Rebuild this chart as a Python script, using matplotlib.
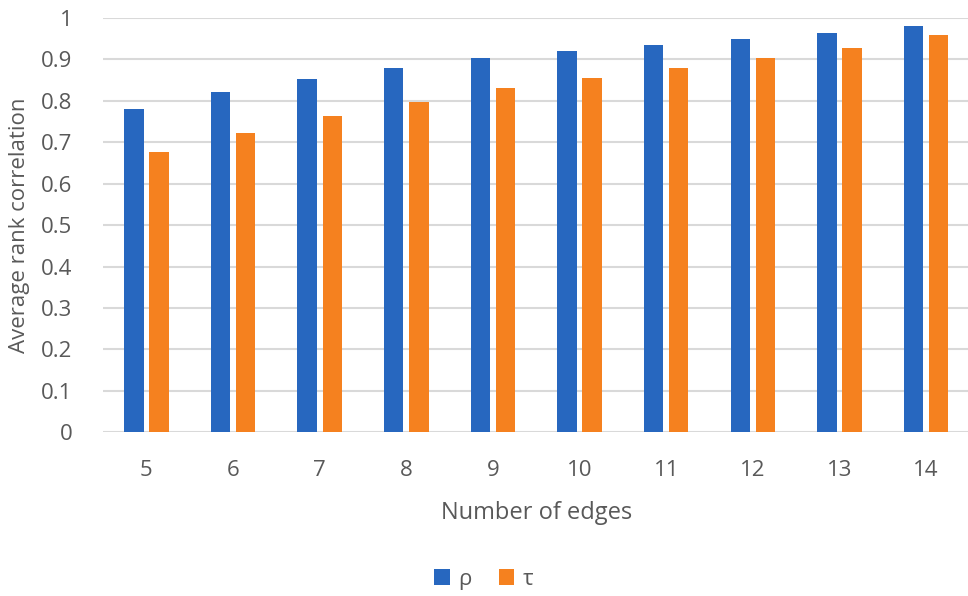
import matplotlib
matplotlib.use("Agg")
import matplotlib.pyplot as plt
import numpy as np

# average rank correlation per number of edges
edges = [5, 6, 7, 8, 9, 10, 11, 12, 13, 14]
rho = [0.780, 0.821, 0.853, 0.879, 0.902, 0.920, 0.935, 0.950, 0.963, 0.980]
tau = [0.676, 0.723, 0.763, 0.798, 0.830, 0.854, 0.878, 0.904, 0.927, 0.958]

blue = "#2767BF"
orange = "#F5811F"
grey = "#595959"

plt.rcParams["font.family"] = ["Open Sans", "DejaVu Sans"]

fig = plt.figure(figsize=(9.68, 5.96), dpi=100)
ax = fig.add_axes([0.1065, 0.2747, 0.895, 0.6953])

x = np.arange(len(edges))
w = 0.224
ax.bar(x - 0.145, rho, w, color=blue, label="ρ", zorder=3)
ax.bar(x + 0.145, tau, w, color=orange, label="τ", zorder=3)

ax.set_xlim(-0.5, len(edges) - 0.5)
ax.set_ylim(0, 1)
ax.set_yticks(np.arange(0, 1.01, 0.1))
ax.set_yticklabels(["0"] + [f"{v:.1f}" for v in np.arange(0.1, 0.95, 0.1)] + ["1"])
ax.set_xticks(x)
ax.set_xticklabels([str(e) for e in edges])

ax.yaxis.grid(True, color="#D9D9D9", lw=1.5, zorder=0)
for s in ax.spines.values():
    s.set_visible(False)
ax.tick_params(length=0, labelsize=16, colors=grey)
ax.tick_params(axis="x", pad=20)
ax.tick_params(axis="y", pad=22)

ax.set_xlabel("Number of edges", fontsize=17, color=grey, labelpad=14)
ax.set_ylabel("Average rank correlation", fontsize=16, color=grey, labelpad=8)

fig.legend(loc="center", bbox_to_anchor=(0.5, 0.028), ncol=2, frameon=False,
           fontsize=16, labelcolor=grey, handlelength=0.7, handleheight=0.7,
           columnspacing=1.2, handletextpad=0.4)

fig.savefig("out.png", dpi=100)
